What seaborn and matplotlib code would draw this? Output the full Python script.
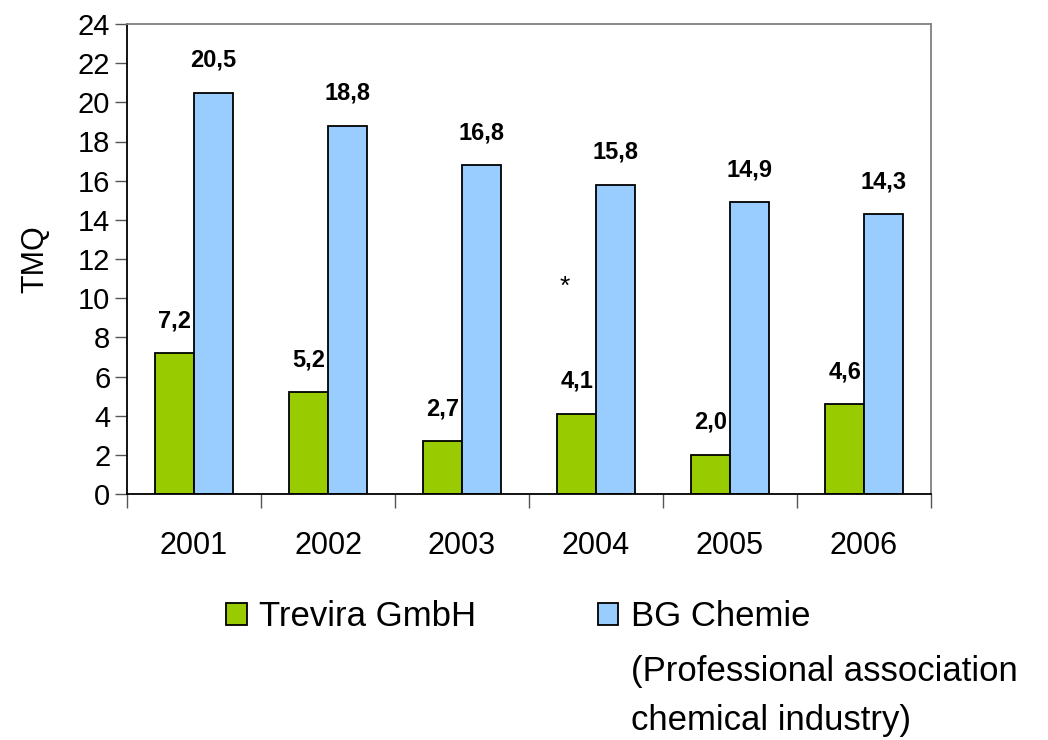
import pandas as pd
import seaborn as sns
import matplotlib.pyplot as plt
from matplotlib.patches import Rectangle

# values
years = ['2001', '2002', '2003', '2004', '2005', '2006']
trevira = [7.2, 5.2, 2.7, 4.1, 2.0, 4.6]
bg_chemie = [20.5, 18.8, 16.8, 15.8, 14.9, 14.3]
series_names = ['Trevira GmbH', 'BG Chemie']
bg_note = '(Professional association\nchemical industry)'

green = '#99CC00'
blue = '#99CCFF'

df = pd.DataFrame({
    'year': years * 2,
    'value': trevira + bg_chemie,
    'series': [series_names[0]] * len(years) + [series_names[1]] * len(years),
})

sns.set_style('white')
plt.rcParams['font.family'] = ['Liberation Sans', 'DejaVu Sans']
plt.rcParams['text.color'] = 'black'
plt.rcParams['xtick.labelcolor'] = 'black'
plt.rcParams['ytick.labelcolor'] = 'black'
plt.rcParams['axes.labelcolor'] = 'black'

fig = plt.figure(figsize=(10.48, 7.4), dpi=100)
ax = fig.add_axes([127 / 1048, 1 - 494 / 740, (931 - 127) / 1048, (494 - 24) / 740])

sns.barplot(data=df, x='year', y='value', hue='series', palette=[green, blue],
            saturation=1, width=0.58, edgecolor='black', linewidth=1.3, legend=False, ax=ax)

# value labels with decimal comma
for cont in ax.containers:
    labels = [f"{b.get_height():.1f}".replace('.', ',') for b in cont]
    ax.bar_label(cont, labels=labels, padding=15, fontsize=17, fontweight='bold')

# footnote marker next to 2004
ax.text(2.77, 10.6, '*', ha='center', va='center', fontsize=19)

ax.set_xlim(-0.5, len(years) - 0.5)
ax.set_ylim(0, 24)
ax.set_yticks(range(0, 25, 2))
ax.tick_params(axis='y', labelsize=21, length=9, width=1, color='#555555', direction='out', left=True, pad=3)
ax.tick_params(axis='x', which='major', labelsize=22, length=0, pad=27)
ax.set_xticks([i - 0.5 for i in range(len(years) + 1)], minor=True)
ax.tick_params(axis='x', which='minor', length=10, width=1, color='#555555', direction='out', bottom=True)
ax.set_xlabel('')
ax.set_ylabel('TMQ', fontsize=22, labelpad=20)

for side in ['left', 'bottom']:
    ax.spines[side].set_color('black')
    ax.spines[side].set_linewidth(1.3)
for side in ['top', 'right']:
    ax.spines[side].set_color('#808080')
    ax.spines[side].set_linewidth(1.3)

handles = [Rectangle((0, 0), 1, 1, facecolor=green, edgecolor='black', linewidth=1.3),
           Rectangle((0, 0), 1, 1, facecolor=blue, edgecolor='black', linewidth=1.3)]
leg = fig.legend(handles, series_names, loc='upper left', bbox_to_anchor=(226 / 1048, 1 - 600 / 740),
                 ncol=2, frameon=False, fontsize=25, handlelength=0.6, handleheight=0.6,
                 handletextpad=0.35, columnspacing=3.5, borderpad=0, borderaxespad=0)

fig.canvas.draw()
bb = leg.get_texts()[1].get_window_extent()
x0 = bb.x0 / fig.bbox.width
fig.text(x0, 1 - 655 / 740, bg_note, ha='left', va='top', fontsize=25, linespacing=1.6)

fig.savefig('out.png', dpi=100)
